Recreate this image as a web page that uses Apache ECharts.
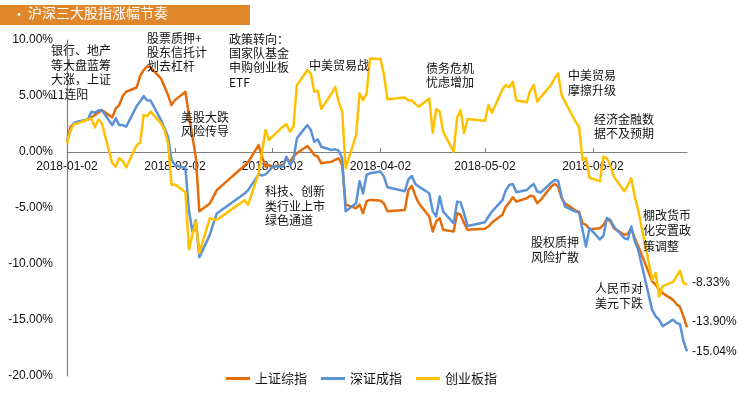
<!DOCTYPE html>
<html>
<head>
<meta charset="utf-8">
<script src="https://cdn.jsdelivr.net/npm/echarts@6.0.0/dist/echarts.min.js"></script>
<style>
html,body{margin:0;padding:0;background:#fff;}
#main{width:751px;height:396px;}
</style>
</head>
<body>
<div id="main"></div>
<script>
// 交易日
var dates = [
  '2018-01-02','2018-01-03','2018-01-04','2018-01-05','2018-01-08','2018-01-09','2018-01-10','2018-01-11','2018-01-12','2018-01-15','2018-01-16','2018-01-17','2018-01-18','2018-01-19','2018-01-22','2018-01-23','2018-01-24','2018-01-25','2018-01-26','2018-01-29','2018-01-30','2018-01-31',
  '2018-02-01','2018-02-02','2018-02-05','2018-02-06','2018-02-07','2018-02-08','2018-02-09','2018-02-12','2018-02-13','2018-02-14','2018-02-22','2018-02-23','2018-02-26','2018-02-27','2018-02-28',
  '2018-03-01','2018-03-02','2018-03-05','2018-03-06','2018-03-07','2018-03-08','2018-03-09','2018-03-12','2018-03-13','2018-03-14','2018-03-15','2018-03-16','2018-03-19','2018-03-20','2018-03-21','2018-03-22','2018-03-23','2018-03-26','2018-03-27','2018-03-28','2018-03-29','2018-03-30',
  '2018-04-02','2018-04-03','2018-04-04','2018-04-09','2018-04-10','2018-04-11','2018-04-12','2018-04-13','2018-04-16','2018-04-17','2018-04-18','2018-04-19','2018-04-20','2018-04-23','2018-04-24','2018-04-25','2018-04-26','2018-04-27',
  '2018-05-02','2018-05-03','2018-05-04','2018-05-07','2018-05-08','2018-05-09','2018-05-10','2018-05-11','2018-05-14','2018-05-15','2018-05-16','2018-05-17','2018-05-18','2018-05-21','2018-05-22','2018-05-23','2018-05-24','2018-05-25','2018-05-28','2018-05-29','2018-05-30','2018-05-31',
  '2018-06-01','2018-06-04','2018-06-05','2018-06-06','2018-06-07','2018-06-08','2018-06-11','2018-06-12','2018-06-13','2018-06-14','2018-06-15','2018-06-19','2018-06-20','2018-06-21','2018-06-22','2018-06-25','2018-06-26','2018-06-27','2018-06-28','2018-06-29'
];
// 上证综指 涨幅(%)
var shIndex = [
  0.92,2.26,2.5,2.6,2.9,3.1,3.3,3.5,3.74,3.09,3.89,4.19,5.0,5.38,5.76,6.8,7.3,7.66,7.55,6.56,5.82,5.08,
  4.19,4.63,5.38,3.3,1.4,-0.5,-5.3,-4.6,-4.0,-3.4,-1.2,-0.9,0.62,-0.42,-1.3,
  -1.16,-1.3,-1.16,-0.56,-0.85,-0.42,-0.12,0.53,0.18,-0.27,-0.42,-1.01,-0.86,-0.71,-0.56,-1.16,-4.7,-5.02,-4.7,-5.47,-4.4,-4.28,
  -4.34,-4.6,-5.3,-5.17,-3.39,-3.03,-3.9,-4.57,-5.76,-7.1,-6.2,-5.9,-6.95,-7.1,-5.47,-5.6,-6.36,-6.95,
  -6.86,-6.65,-6.3,-5.6,-4.87,-4.5,-4.04,-4.43,-4.13,-3.9,-3.98,-4.57,-4.28,-3.09,-2.85,-3.09,-4.13,-4.57,-5.23,-5.32,-6.36,-6.5,
  -6.9,-6.8,-6.5,-6.0,-6.2,-6.8,-7.4,-7.3,-6.8,-7.7,-8.4,-11.55,-11.85,-12.3,-12.6,-13.2,-13.6,-13.84,-14.7,-15.65
];
// 深证成指 涨幅(%)
var szIndex = [
  0.92,1.96,2.6,2.7,2.9,3.6,3.5,3.7,3.74,2.4,3.0,2.4,2.4,2.26,4.1,4.5,5.0,4.6,4.6,2.85,2.1,1.37,
  -0.7,-1.16,-1.45,-5.2,-7.1,-6.1,-9.4,-7.4,-6.4,-5.5,-3.7,-3.4,-2.0,-2.1,-2.0,
  -1.7,-1.3,-1.3,-0.42,-1.15,-0.7,1.22,2.4,1.96,0.92,1.13,0.47,0.18,0.24,0.12,-0.56,-5.3,-4.57,-2.6,-3.7,-2.05,-1.9,
  -1.75,-2.2,-3.15,-3.5,-2.44,-2.14,-2.85,-3.09,-3.68,-5.3,-5.76,-3.98,-5.32,-6.36,-4.43,-4.5,-5.5,-6.6,
  -6.27,-5.76,-5.32,-4.3,-3.4,-2.94,-2.85,-3.6,-3.4,-3.09,-2.85,-3.53,-3.62,-2.74,-2.5,-2.56,-3.98,-4.87,-5.32,-5.41,-6.95,-8.43,
  -6.8,-7.8,-7.5,-5.9,-6.06,-6.65,-7.7,-7.8,-6.65,-7.99,-8.73,-14.1,-14.67,-14.97,-15.56,-14.97,-15.26,-15.4,-16.9,-17.8
];
// 创业板指 涨幅(%)
var cyIndex = [
  0.77,1.96,2.5,2.55,2.9,3.0,2.2,2.9,2.55,-1.0,-1.3,-0.56,-0.8,-1.37,0.62,0.83,3.3,3.2,3.6,2.55,1.96,0.77,
  -2.94,-2.9,-3.6,-8.7,-7.4,-6.2,-9.0,-5.9,-6.0,-6.06,-4.3,-4.7,-1.9,0.03,1.96,
  1.07,1.4,2.26,2.5,1.81,2.26,5.97,7.3,7.0,5.38,5.47,3.85,5.25,5.8,4.48,3.6,-1.45,1.5,5.25,4.63,5.2,8.35,
  8.3,6.9,4.7,4.87,4.6,4.6,4.3,4.04,4.78,1.72,3.83,3.6,1.81,0.03,3.1,3.74,1.7,2.94,
  2.8,4.19,3.5,5.59,5.97,5.8,6.27,4.6,4.45,5.5,5.97,4.48,4.9,6.0,6.6,7.0,5.08,4.48,2.7,2.26,-0.71,-0.53,
  -2.3,-2.6,-0.42,-0.56,-1.2,-2.2,-3.5,-3.0,-2.35,-4.0,-5.2,-11.4,-10.8,-12.9,-12.0,-11.6,-11.1,-10.6,-11.7,-11.85
];
var seriesNames = ['上证综指', '深证成指', '创业板指'];
var endTexts = ['-13.90%', '-15.04%', '-8.33%'];
var monthTicks = ['2018-01-02', '2018-02-02', '2018-03-02', '2018-04-02', '2018-05-02', '2018-06-02'];

var FONT = '"Liberation Sans", "Noto Sans CJK SC", sans-serif';
var CJK = '"Noto Sans CJK SC", sans-serif';

// 日期 -> 时间戳（本地时间）
function ts(s) {
  var p = s.split('-');
  return new Date(+p[0], +p[1] - 1, +p[2]).getTime();
}
function pad(n) { return n < 10 ? '0' + n : '' + n; }

var tickValues = monthTicks.map(ts);

function note(text, x, y, lh) {
  return {
    type: 'text', left: x, top: y, z: 10,
    style: { text: text, fill: '#111', font: '12px ' + CJK, lineHeight: lh || 14.5 }
  };
}

var myChart = echarts.init(document.getElementById('main'));
var colors = ['#E46C0A', '#5B92D6', '#FFC000'];
var lists = [shIndex, szIndex, cyIndex];
var endOffsets = [[0, -6], [0, 0], [0, -2]];

// 网格：x 轴放在 0% 线上
var gridTop = 40, gridBottom = 20, yMin = -20, yMax = 10;
var gridH = 396 - gridTop - gridBottom;
var zeroOffset = -gridH * (0 - yMin) / (yMax - yMin);

var option = {
  animation: false,
  color: colors,
  textStyle: { fontFamily: FONT },
  grid: { left: 67, right: 64, top: gridTop, bottom: gridBottom, containLabel: false, outerBoundsMode: 'none' },
  legend: {
    data: seriesNames,
    left: 221, top: 367,
    icon: 'rect', itemWidth: 24, itemHeight: 3, itemGap: 14,
    textStyle: { fontSize: 13, color: '#111', fontFamily: CJK }
  },
  xAxis: {
    type: 'value',
    position: 'bottom',
    offset: zeroOffset,
    min: ts('2018-01-02'),
    max: ts('2018-06-29'),
    splitLine: { show: false },
    axisLine: { show: true, onZero: false, lineStyle: { color: '#7f7f7f', width: 1.2 } },
    axisTick: { show: true, inside: true, length: 4, customValues: tickValues, lineStyle: { color: '#7f7f7f' } },
    axisLabel: {
      customValues: tickValues,
      margin: 9, fontSize: 12, color: '#111', fontFamily: FONT,
      formatter: function (v) {
        var d = new Date(v);
        return d.getFullYear() + '-' + pad(d.getMonth() + 1) + '-' + pad(d.getDate());
      }
    }
  },
  yAxis: {
    type: 'value',
    min: yMin, max: yMax, interval: 5,
    splitLine: { show: false },
    axisLine: { show: true, onZero: false, lineStyle: { color: '#7f7f7f', width: 1.2 } },
    axisTick: { show: false },
    axisLabel: {
      margin: 14, fontSize: 12, color: '#111', fontFamily: FONT,
      formatter: function (v) { return v.toFixed(2) + '%'; }
    }
  },
  series: seriesNames.map(function (name, k) {
    return {
      name: name,
      type: 'line',
      showSymbol: false,
      symbol: 'none',
      lineStyle: { width: 2.5, color: colors[k], join: 'round' },
      data: dates.map(function (d, i) { return [ts(d), lists[k][i]]; }),
      endLabel: {
        show: true,
        distance: 5,
        offset: endOffsets[k],
        color: '#111', fontSize: 12, fontFamily: FONT,
        formatter: function () { return endTexts[k]; }
      }
    };
  }),
  graphic: [
    { type: 'rect', left: 0, top: 5, shape: { width: 250, height: 20 }, style: { fill: '#E0862B' } },
    { type: 'text', left: 12, top: 7, style: { text: '•', fill: '#fff', font: '14px ' + CJK } },
    { type: 'text', left: 28, top: 6, style: { text: '沪深三大股指涨幅节奏', fill: '#fff', font: '14px ' + CJK } },
    note('银行、地产\n等大盘蓝筹\n大涨，上证\n11连阳', 51, 43.5),
    note('股票质押+\n股东信托计\n划去杠杆', 147, 31, 14),
    note('政策转向：\n国家队基金\n申购创业板\nETF', 229, 32, 14.3),
    note('美股大跌\n风险传导', 181, 110, 14.5),
    note('中美贸易战', 309, 58),
    note('债务危机\n忧虑增加', 426, 61),
    note('中美贸易\n摩擦升级', 568, 67.5, 15),
    note('经济金融数\n据不及预期', 594, 112),
    note('科技、创新\n类行业上市\n绿色通道', 265, 184.5),
    note('股权质押\n风险扩散', 531, 235.5),
    note('人民币对\n美元下跌', 595, 281.5),
    note('棚改货币\n化安置政\n策调整', 643, 207.5, 15.5)
  ]
};
myChart.setOption(option);
window.addEventListener('resize', function () { myChart.resize(); });
</script>
</body>
</html>
